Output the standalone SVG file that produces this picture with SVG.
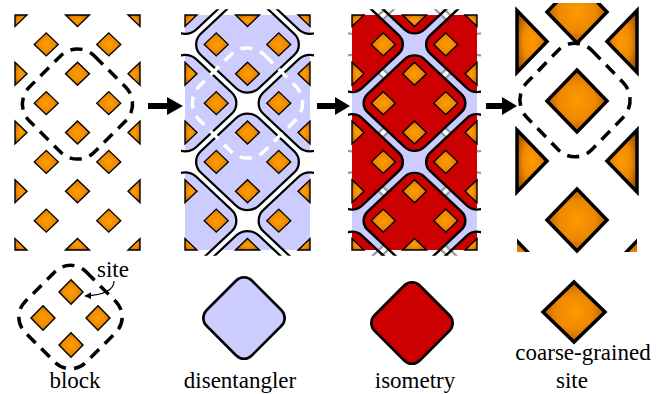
<svg xmlns="http://www.w3.org/2000/svg" xmlns:xlink="http://www.w3.org/1999/xlink" width="665" height="394" viewBox="0 0 665 394">
<defs>
<style>
.sites{fill:url(#og);stroke:#000;stroke-width:1.4;stroke-linejoin:miter}
.big{fill:url(#og2);stroke:#000;stroke-width:3.5;stroke-linejoin:miter}
.lbl{font-family:"Liberation Serif","Times New Roman",serif;font-size:23px;fill:#000}
.blk{fill:none;stroke:#000;stroke-width:3.5;stroke-dasharray:12 8}
.blkw{fill:none;stroke:#fff;stroke-width:3.5;stroke-dasharray:12 8}
.arrow{fill:#000}
</style>
<radialGradient id="og" cx="0.5" cy="0.5" r="0.6">
<stop offset="0" stop-color="#ff9e00"/>
<stop offset="0.55" stop-color="#f08a00"/>
<stop offset="1" stop-color="#b05800"/>
</radialGradient>
<radialGradient id="og2" cx="0.5" cy="0.5" r="0.6">
<stop offset="0" stop-color="#ff9a00"/>
<stop offset="0.5" stop-color="#ee8800"/>
<stop offset="1" stop-color="#9c5000"/>
</radialGradient>
<marker id="ah" viewBox="0 0 10 10" refX="9" refY="5" markerWidth="7" markerHeight="7" orient="auto" markerUnits="userSpaceOnUse">
<path d="M0,0 L10,5 L0,10 Z" fill="#000"/>
</marker>
<!-- site shapes: full diamond, halves and quarters cut by the panel border -->
<path id="dm" d="M0,-12.2 L12,0 L0,12.2 L-12,0Z"/>
<path id="hr" d="M0,-12.2 L12,0 L0,12.2Z"/>
<path id="hl" d="M0,-12.2 L0,12.2 L-12,0Z"/>
<path id="hb" d="M-12,0 L12,0 L0,12.2Z"/>
<path id="ht" d="M-12,0 L0,-12.2 L12,0Z"/>
<path id="qse" d="M0,0 L12,0 L0,12.2Z"/>
<path id="qsw" d="M0,0 L0,12.2 L-12,0Z"/>
<path id="qne" d="M0,0 L0,-12.2 L12,0Z"/>
<path id="qnw" d="M0,0 L-12,0 L0,-12.2Z"/>
<!-- lattice of sites in panel units (125 x 250) -->
<g id="sites" class="sites">
<use xlink:href="#qse" x="0" y="0"/><use xlink:href="#hb" x="62.5" y="0"/><use xlink:href="#qsw" x="125" y="0"/>
<use xlink:href="#dm" x="31.25" y="31.25"/><use xlink:href="#dm" x="93.75" y="31.25"/>
<use xlink:href="#hr" x="0" y="62.5"/><use xlink:href="#dm" x="62.5" y="62.5"/><use xlink:href="#hl" x="125" y="62.5"/>
<use xlink:href="#dm" x="31.25" y="93.75"/><use xlink:href="#dm" x="93.75" y="93.75"/>
<use xlink:href="#hr" x="0" y="125"/><use xlink:href="#dm" x="62.5" y="125"/><use xlink:href="#hl" x="125" y="125"/>
<use xlink:href="#dm" x="31.25" y="156.25"/><use xlink:href="#dm" x="93.75" y="156.25"/>
<use xlink:href="#hr" x="0" y="187.5"/><use xlink:href="#dm" x="62.5" y="187.5"/><use xlink:href="#hl" x="125" y="187.5"/>
<use xlink:href="#dm" x="31.25" y="218.75"/><use xlink:href="#dm" x="93.75" y="218.75"/>
<use xlink:href="#qne" x="0" y="250"/><use xlink:href="#ht" x="62.5" y="250"/><use xlink:href="#qnw" x="125" y="250"/>
</g>
<!-- disentangler tile: rounded square standing on a corner -->
<path id="dshape" d="M11.31,-46.67 L46.67,-11.31 A16,16 0 0 1 46.67,11.31 L11.31,46.67 A16,16 0 0 1 -11.31,46.67 L-46.67,11.31 A16,16 0 0 1 -46.67,-11.31 L-11.31,-46.67 A16,16 0 0 1 11.31,-46.67Z"/>
<g id="dis">
<use xlink:href="#dshape" x="0" y="-31.25"/><use xlink:href="#dshape" x="125" y="-31.25"/>
<use xlink:href="#dshape" x="62.5" y="31.25"/>
<use xlink:href="#dshape" x="0" y="93.75"/><use xlink:href="#dshape" x="125" y="93.75"/>
<use xlink:href="#dshape" x="62.5" y="156.25"/>
<use xlink:href="#dshape" x="0" y="218.75"/><use xlink:href="#dshape" x="125" y="218.75"/>
<use xlink:href="#dshape" x="62.5" y="281.25"/>
</g>
<!-- isometry tile -->
<path id="ishape" d="M9.9,-46.67 L46.67,-9.9 A14,14 0 0 1 46.67,9.9 L9.9,46.67 A14,14 0 0 1 -9.9,46.67 L-46.67,9.9 A14,14 0 0 1 -46.67,-9.9 L-9.9,-46.67 A14,14 0 0 1 9.9,-46.67Z"/>
<g id="iso">
<use xlink:href="#ishape" x="62.5" y="-31.25"/>
<use xlink:href="#ishape" x="0" y="31.25"/><use xlink:href="#ishape" x="125" y="31.25"/>
<use xlink:href="#ishape" x="62.5" y="93.75"/>
<use xlink:href="#ishape" x="0" y="156.25"/><use xlink:href="#ishape" x="125" y="156.25"/>
<use xlink:href="#ishape" x="62.5" y="218.75"/>
<use xlink:href="#ishape" x="0" y="281.25"/><use xlink:href="#ishape" x="125" y="281.25"/>
</g>
<clipPath id="cin"><rect x="0" y="0" width="125" height="250"/></clipPath>
<clipPath id="cout"><rect x="-4" y="-6" width="133" height="262"/></clipPath>
<clipPath id="c4"><rect x="517" y="3" width="120" height="249"/></clipPath>
<!-- block outline -->
<path id="blockshape" d="M16.97,-48.08 L48.08,-16.97 A24,24 0 0 1 48.08,16.97 L16.97,48.08 A24,24 0 0 1 -16.97,48.08 L-48.08,16.97 A24,24 0 0 1 -48.08,-16.97 L-16.97,-48.08 A24,24 0 0 1 16.97,-48.08Z"/>
<!-- small legend tile -->
<path id="lshape" d="M7.78,-37.47 L37.47,-7.78 A11,11 0 0 1 37.47,7.78 L7.78,37.47 A11,11 0 0 1 -7.78,37.47 L-37.47,7.78 A11,11 0 0 1 -37.47,-7.78 L-7.78,-37.47 A11,11 0 0 1 7.78,-37.47Z"/>
</defs>

<rect width="665" height="394" fill="#fff"/>

<!-- panel 1: lattice of sites with one block -->
<g id="panel-sites">
<g transform="translate(15,15) scale(1,0.94)">
<use xlink:href="#sites"/>
</g>
<use xlink:href="#blockshape" class="blk" x="77.5" y="104"/>
</g>

<!-- panel 2: disentanglers -->
<g id="panel-disentanglers">
<g transform="translate(185,15) scale(1,0.94)">
<g clip-path="url(#cin)"><use xlink:href="#dis" fill="#ccccff" stroke="none"/></g>
<g clip-path="url(#cout)"><use xlink:href="#dis" fill="none" stroke="#000" stroke-width="2.3"/></g>
<use xlink:href="#sites"/>
</g>
<use xlink:href="#blockshape" class="blkw" x="247.5" y="103"/>
</g>

<!-- panel 3: isometries on top of the disentangled lattice -->
<g id="panel-isometries">
<g transform="translate(352,15) scale(1,0.94)">
<g clip-path="url(#cin)"><use xlink:href="#dis" fill="#ccccff" stroke="none"/></g>
<g clip-path="url(#cout)"><use xlink:href="#dis" fill="none" stroke="#999" stroke-width="2.3"/></g>
<g clip-path="url(#cin)"><use xlink:href="#iso" fill="#cc0000" stroke="none"/></g>
<g clip-path="url(#cout)"><use xlink:href="#iso" fill="none" stroke="#000" stroke-width="2.6"/></g>
<use xlink:href="#sites"/>
</g>
</g>

<!-- panel 4: coarse-grained lattice -->
<g id="panel-coarse">
<g clip-path="url(#c4)" class="big">
<path d="M577,-19 l30,31 l-30,31 l-30,-31Z"/>
<path d="M517,241 l30,31 l-30,31 l-30,-31Z"/>
<path d="M637,241 l30,31 l-30,31 l-30,-31Z"/>
</g>
<g class="big">
<path d="M517,10.5 L547,41.5 L517,72.5Z"/>
<path d="M517,130 L547,161 L517,192Z"/>
<path d="M637,10.5 L607,41.5 L637,72.5Z"/>
<path d="M637,130 L607,161 L637,192Z"/>
<path d="M577,70 L607,101 L577,132 L547,101Z"/>
<path d="M577,189 L607,220 L577,251 L547,220Z"/>
</g>
<g transform="translate(575,100) scale(1,1.03)"><use xlink:href="#blockshape" class="blk"/></g>
</g>

<!-- arrows between stages -->
<g id="connectors" class="arrow">
<path d="M148,103 H167 V97 L183,106 L167,115 V109 H148Z"/>
<path d="M317,103 H335 V97 L350,106 L335,115 V109 H317Z"/>
<path d="M486,103 H502 V97 L517,106 L502,115 V109 H486Z"/>
</g>

<!-- legend -->
<g id="legend-block">
<g class="sites">
<use xlink:href="#dm" x="71" y="292"/>
<use xlink:href="#dm" x="43" y="318"/>
<use xlink:href="#dm" x="98" y="318"/>
<use xlink:href="#dm" x="71" y="345"/>
</g>
<path class="blk" transform="translate(70.5,317)" d="M15.56,-45.25 L45.25,-15.56 A22,22 0 0 1 45.25,15.56 L15.56,45.25 A22,22 0 0 1 -15.56,45.25 L-45.25,15.56 A22,22 0 0 1 -45.25,-15.56 L-15.56,-45.25 A22,22 0 0 1 15.56,-45.25Z"/>
<text class="lbl" x="97" y="277">site</text>
<path d="M114,281 C114,290 104,295 85,296" fill="none" stroke="#000" stroke-width="1.2" marker-end="url(#ah)"/>
<text class="lbl" x="75" y="388" text-anchor="middle">block</text>
</g>
<g id="legend-disentangler">
<use xlink:href="#lshape" x="244" y="318" fill="#ccccff" stroke="#000" stroke-width="2.6"/>
<text class="lbl" x="240" y="388" text-anchor="middle">disentangler</text>
</g>
<g id="legend-isometry">
<use xlink:href="#lshape" x="412" y="323" fill="#cc0000" stroke="#000" stroke-width="2.6"/>
<text class="lbl" x="415" y="388" text-anchor="middle">isometry</text>
</g>
<g id="legend-coarse-site">
<path class="big" d="M574,282 L605,312 L574,342 L543,312Z"/>
<text class="lbl" x="583" y="360" text-anchor="middle">coarse-grained</text>
<text class="lbl" x="572" y="388" text-anchor="middle">site</text>
</g>
</svg>
